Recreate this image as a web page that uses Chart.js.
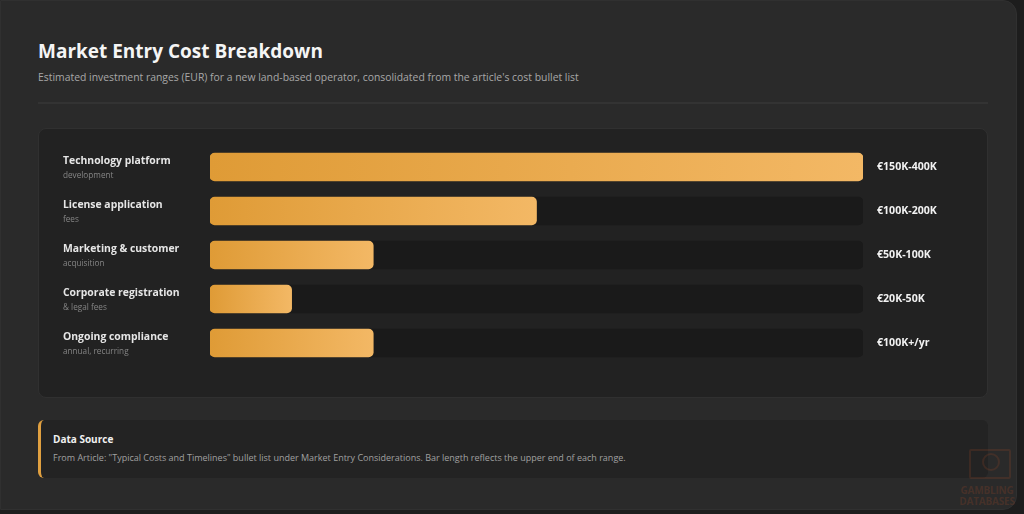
<!DOCTYPE html>
<html>
<head>
<meta charset="utf-8">
<script src="https://cdn.jsdelivr.net/npm/chart.js@4.4.1/dist/chart.umd.min.js"></script>
<style>
  html, body { margin: 0; padding: 0; background: #1d1d1d; }
  body { width: 1024px; height: 514px; overflow: hidden; font-family: "Open Sans", "Noto Sans", sans-serif; }
  .card {
    position: absolute; left: 0; top: 0; width: 1017px; height: 510px;
    background: #2a2a2a; border-radius: 0 14px 14px 0; border: 1px solid #303030; box-sizing: border-box;
  }
  h1 { position: absolute; left: 37px; top: 37px; margin: 0; font-size: 19px; font-weight: 700; color: #f5f5f5; }
  .sub { position: absolute; left: 37px; top: 69px; font-size: 10.4px; color: #a8a8a8; }
  .rule { position: absolute; left: 37px; top: 101px; width: 950px; height: 2px; background: #333333; }
  .panel {
    position: absolute; left: 37px; top: 127px; width: 950px; height: 270px;
    background: #222222; border: 1px solid #303030; border-radius: 8px; box-sizing: border-box;
  }
  .panel canvas { position: absolute; left: -1px; top: -1px; }
  .source {
    position: absolute; left: 37px; top: 419px; width: 950px; height: 58px;
    background: #232323; border-left: 3px solid #e0a040; border-radius: 6px; box-sizing: border-box;
  }
  .source b { position: absolute; left: 12px; top: 12px; font-size: 10px; color: #f0f0f0; }
  .source span { position: absolute; left: 12px; top: 31px; font-size: 9px; color: #a0a0a0; white-space: nowrap; }
  .icon { position: absolute; left: 968px; top: 448px; width: 38px; height: 26px; border: 2px solid rgba(190,80,40,0.16); border-radius: 2px; }
  .icon i { position: absolute; left: 11px; top: 2px; width: 14px; height: 14px; border-radius: 50%; border: 2px solid rgba(190,80,40,0.16); }
  .mark { position: absolute; left: 953px; top: 484px; width: 66px; text-align: center; font-size: 10px; font-weight: 700; color: rgba(190,80,40,0.2); line-height: 11px; letter-spacing: -0.2px; }
</style>
</head>
<body>
<div class="card">
  <h1>Market Entry Cost Breakdown</h1>
  <div class="sub">Estimated investment ranges (EUR) for a new land-based operator, consolidated from the article's cost bullet list</div>
  <div class="rule"></div>
  <div class="panel"><canvas id="costChart" width="950" height="270"></canvas></div>
  <div class="source">
    <b>Data Source</b>
    <span>From Article: "Typical Costs and Timelines" bullet list under Market Entry Considerations. Bar length reflects the upper end of each range.</span>
  </div>
  <div class="icon"><i></i></div>
  <div class="mark">GAMBLING<br>DATABASES</div>
</div>
<script>
  // Cost items and their ranges (bar = upper end, in thousand EUR)
  const categories = [
    "Technology platform",
    "License application",
    "Marketing & customer",
    "Corporate registration",
    "Ongoing compliance",
  ];
  const subLabels = ["development", "fees", "acquisition", "& legal fees", "annual, recurring"];
  const upperValues = [400, 200, 100, 50, 100];
  const rangeLabels = ["€150K-400K", "€100K-200K", "€50K-100K", "€20K-50K", "€100K+/yr"];
  const scaleMax = 400;

  const canvas = document.getElementById("costChart");

  // draws row labels on the left and range labels on the right
  const labelPlugin = {
    id: "rowLabels",
    afterDatasetsDraw(chart) {
      const ctx = chart.ctx;
      const y = chart.scales.y;
      ctx.save();
      ctx.textBaseline = "middle";
      categories.forEach((name, i) => {
        const cy = y.getPixelForValue(i);
        ctx.textAlign = "left";
        ctx.fillStyle = "#e6e6e6";
        ctx.font = "bold 10.4px 'Open Sans', sans-serif";
        ctx.fillText(name, 25, cy - 6);
        ctx.fillStyle = "#858585";
        ctx.font = "8.2px 'Open Sans', sans-serif";
        ctx.fillText(subLabels[i], 25, cy + 9);
        ctx.fillStyle = "#f2f2f2";
        ctx.font = "bold 10.6px 'Open Sans', sans-serif";
        ctx.fillText(rangeLabels[i], chart.chartArea.right + 14, cy);
      });
      ctx.restore();
    },
  };

  new Chart(canvas.getContext("2d"), {
    type: "bar",
    data: {
      labels: categories,
      datasets: [
        {
          label: "Upper end",
          data: upperValues,
          order: 1,
          barThickness: 28,
          borderRadius: 5,
          borderSkipped: false,
          backgroundColor: function (c) {
            const x = c.chart.scales.x;
            if (!x || c.dataIndex === undefined) return "#e6a346";
            const x0 = x.getPixelForValue(0);
            const x1 = x.getPixelForValue(upperValues[c.dataIndex]);
            if (!isFinite(x0) || !isFinite(x1) || x1 <= x0) return "#e6a346";
            const g = c.chart.ctx.createLinearGradient(x0, 0, x1, 0);
            g.addColorStop(0, "#df9b36");
            g.addColorStop(1, "#f3b865");
            return g;
          },
        },
        {
          label: "Track",
          data: categories.map(() => scaleMax),
          order: 2,
          barThickness: 28,
          borderRadius: 5,
          borderSkipped: false,
          backgroundColor: "#1a1a1a",
        },
      ],
    },
    options: {
      indexAxis: "y",
      responsive: false,
      animation: false,
      grouped: false,
      layout: { padding: { left: 172, right: 125, top: 17, bottom: 33 } },
      scales: {
        x: { min: 0, max: scaleMax, display: false },
        y: { display: false },
      },
      plugins: {
        legend: { display: false },
        tooltip: { enabled: false },
      },
    },
    plugins: [labelPlugin],
  });
</script>
</body>
</html>
